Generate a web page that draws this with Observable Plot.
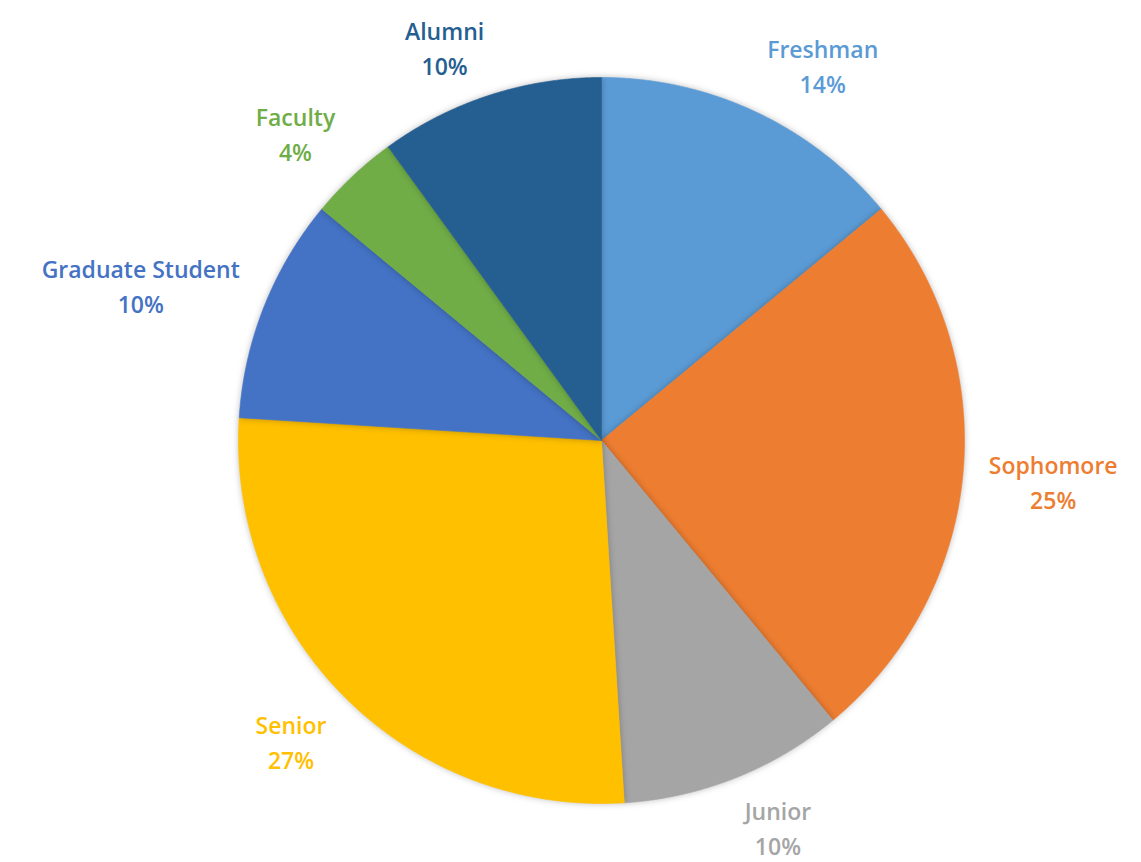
<!DOCTYPE html>
<html>
<head>
<meta charset="utf-8">
<script src="https://cdn.jsdelivr.net/npm/d3@7"></script>
<script src="https://cdn.jsdelivr.net/npm/@observablehq/plot@0.6"></script>
<style>
  html, body { margin: 0; padding: 0; background: #ffffff; }
  #chart { width: 1141px; height: 862px; }
</style>
</head>
<body>
<div id="chart"></div>
<script>
// ---- Data ----
const categories = ["Freshman", "Sophomore", "Junior", "Senior", "Graduate Student", "Faculty", "Alumni"];
const shares = [14, 25, 10, 27, 10, 4, 10];
const colors = ["#5B9BD5", "#ED7D31", "#A5A5A5", "#FFC000", "#4472C4", "#70AD47", "#255E91"];

// ---- Layout ----
const W = 1141, H = 862;
const cx = 601, cy = 440, R = 363;
const FONT_SIZE = 23, LINE_PX = 35, FONT_FAMILY = "'Open Sans', Lato, sans-serif", FONT_WEIGHT = 600;
const LINE_H = LINE_PX / FONT_SIZE;

const pie = d3.pie().sort(null).value(d => d.value).startAngle(0).endAngle(2 * Math.PI);
const rows = categories.map((name, i) => ({name, value: shares[i], color: colors[i]}));
const arcs = pie(rows);

// polygon points per slice in unit-radius coordinates (y up)
function slicePoints(a) {
  const pts = [{x: 0, y: 0}];
  const steps = Math.max(2, Math.ceil((a.endAngle - a.startAngle) / (Math.PI / 720)));
  for (let k = 0; k <= steps; k++) {
    const t = a.startAngle + (a.endAngle - a.startAngle) * k / steps;
    pts.push({x: Math.sin(t), y: Math.cos(t)});
  }
  pts.push({x: 0, y: 0});
  return pts;
}

// measure label width
const ctx = document.createElement("canvas").getContext("2d");
ctx.font = `${FONT_WEIGHT} ${FONT_SIZE}px ${FONT_FAMILY}`;

// outside-end labels: nearest box corner sits just outside the rim on the mid-angle
const clamp = v => Math.max(-1, Math.min(1, v));
const labels = arcs.map(a => {
  const mid = (a.startAngle + a.endAngle) / 2;
  const s = Math.sin(mid), c = Math.cos(mid);
  const lines = [a.data.name, a.data.value + "%"];
  const w = Math.max(...lines.map(l => ctx.measureText(l).width));
  const h = LINE_PX + FONT_SIZE * 0.6;
  const D = R + 26;
  const px = cx + D * s + (w / 2) * clamp(3 * s);
  const py = cy - D * c - (h / 2) * clamp(1.5 * c);
  return {
    x: (px - cx) / R,
    y: (cy - py) / R,
    text: lines.join("\n"),
    color: a.data.color
  };
});

const marks = arcs.map(a => Plot.line(slicePoints(a), {
  x: "x", y: "y", fill: a.data.color, stroke: a.data.color, strokeWidth: 0.6, curve: "linear"
}));

marks.push(Plot.text(labels, {
  x: "x", y: "y", text: "text", fill: d => d.color,
  fontSize: FONT_SIZE, fontWeight: FONT_WEIGHT, fontFamily: FONT_FAMILY,
  lineHeight: LINE_H, textAnchor: "middle", lineAnchor: "middle"
}));

const chart = Plot.plot({
  width: W, height: H,
  marginTop: 0, marginRight: 0, marginBottom: 0, marginLeft: 0,
  x: {domain: [-cx / R, (W - cx) / R], axis: null},
  y: {domain: [-(H - cy) / R, cy / R], axis: null},
  style: {background: "#ffffff", overflow: "visible"},
  marks
});

// subtle shadow around the pie slices
d3.select(chart).selectAll("g[aria-label='line']")
  .style("filter", "drop-shadow(0px 0px 3px rgba(0,0,0,0.25))");

document.getElementById("chart").appendChild(chart);
</script>
</body>
</html>
